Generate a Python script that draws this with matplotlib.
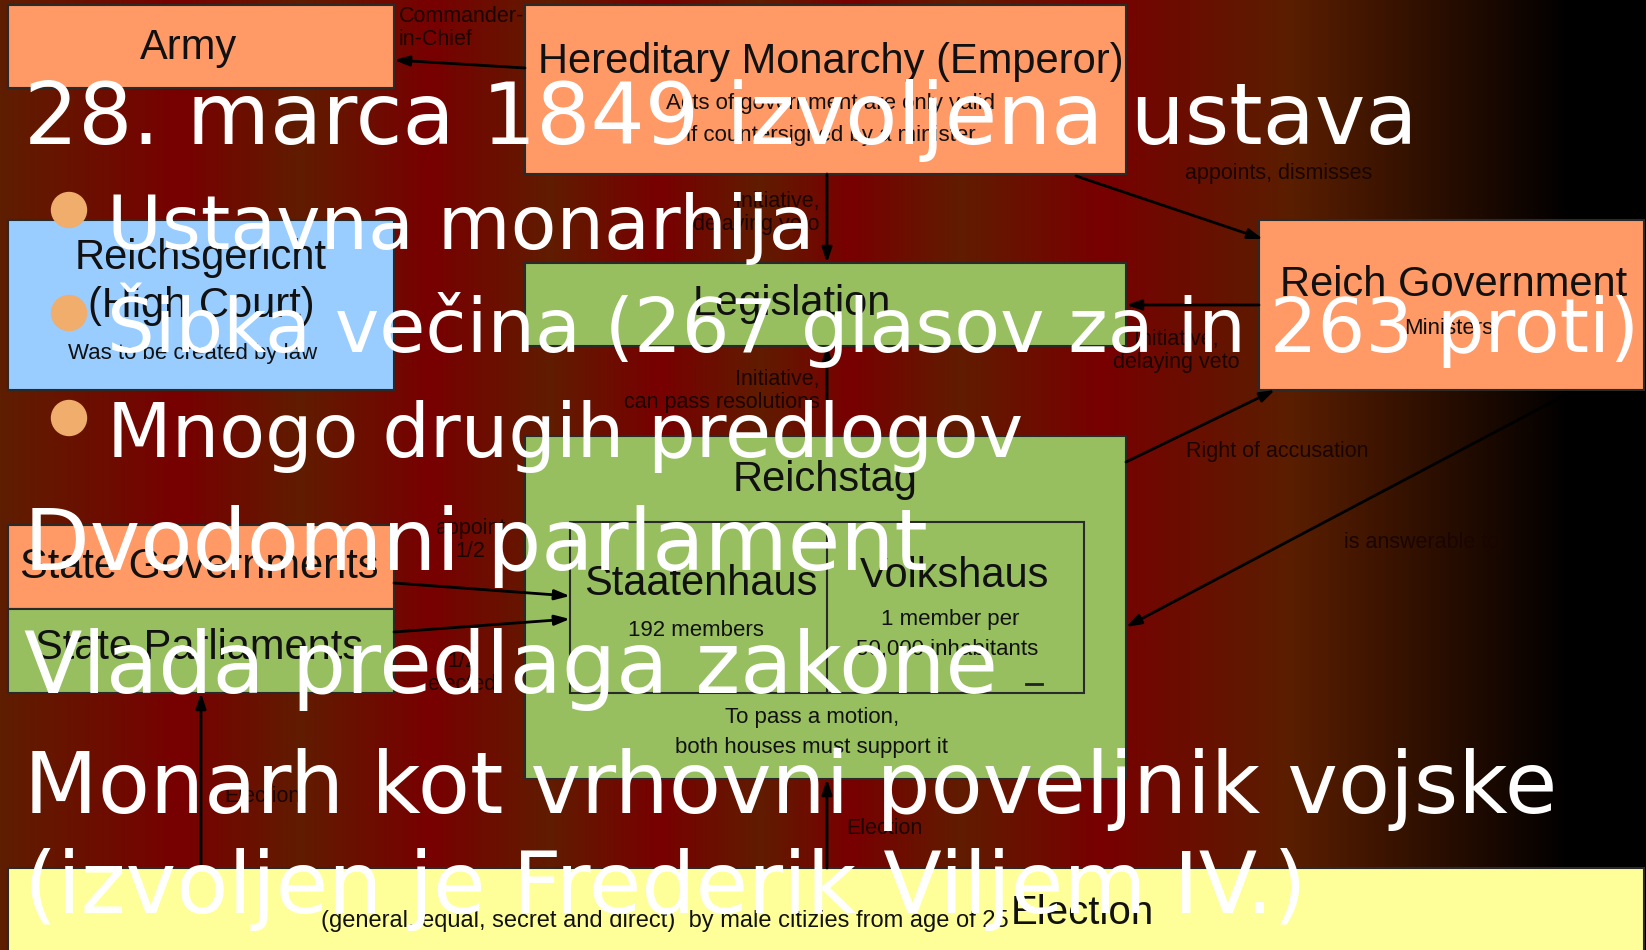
import numpy as np
import matplotlib
matplotlib.use("Agg")
import matplotlib.pyplot as plt
from matplotlib.patches import Rectangle, Circle
from matplotlib.colors import to_rgb

# slide background: horizontal gradient stops (x in px, colour)
bg_stops = [0, 180, 300, 430, 550, 660, 760, 850, 960, 1100, 1290, 1570, 1646]
bg_colors = ['#5e1e00', '#780000', '#601c00', '#780000', '#601c00', '#780000',
             '#601c00', '#780000', '#601c00', '#780000', '#5a1e00', '#000000', '#000000']

# diagram boxes: name, x0, y0, x1, y1, fill
ORANGE, GREEN, BLUE, YELLOW = '#ff9966', '#97bf60', '#99ccff', '#ffff99'
boxes = [
    ('army', 8, 5, 394, 88, ORANGE),
    ('monarchy', 525, 5, 1126, 174, ORANGE),
    ('court', 8, 220, 394, 390, BLUE),
    ('legislation', 525, 263, 1126, 346, GREEN),
    ('reichgov', 1259, 220, 1644, 390, ORANGE),
    ('reichstag', 525, 436, 1126, 779, GREEN),
    ('houses', 570, 522, 1084, 693, GREEN),
    ('stategov', 8, 525, 394, 609, ORANGE),
    ('stateparl', 8, 609, 394, 693, GREEN),
    ('election', 8, 868, 1644, 960, YELLOW),
]

# box texts: text, x, y, size
box_texts = [
    ('Army', 189, 48, 30),
    ('Hereditary Monarchy (Emperor)', 831, 62, 30),
    ('Acts of government are only valid', 831, 104, 16),
    ('if countersigned by a minister', 831, 135, 16),
    ('Reichsgericht', 201, 258, 30),
    ('(High Court)', 201, 306, 30),
    ('Was to be created by law', 193, 354, 16),
    ('Legislation', 792, 304, 30),
    ('Reich Government', 1454, 285, 30),
    ('Ministers', 1449, 329, 16),
    ('Reichstag', 825, 480, 30),
    ('Staatenhaus', 701, 584, 30),
    ('192 members', 696, 630, 16),
    ('Volkshaus', 955, 576, 30),
    ('1 member per', 950, 619, 16),
    ('50,000 inhabitants', 947, 649, 16),
    ('To pass a motion,', 812, 718, 16),
    ('both houses must support it', 812, 748, 16),
    ('State Governments', 199, 567, 30),
    ('State Parliaments', 199, 648, 30),
    ('(general, equal, secret and direct)  by male citizies from age of 25', 665, 921, 17),
    ('Election', 1082, 913, 29),
]

# arrow labels on the background: text, x, y, ha
labels = [
    ('Commander-\nin-Chief', 399, 28, 'left'),
    ('Initiative,\ndelaying veto', 820, 213, 'right'),
    ('Initiative,\ncan pass resolutions', 820, 391, 'right'),
    ('appoints, dismisses', 1279, 173, 'center'),
    ('Initiative,\ndelaying veto', 1176, 351, 'center'),
    ('Right of accusation', 1277, 451, 'center'),
    ('is answerable to', 1422, 543, 'center'),
    ('appoint\n1/2', 470, 540, 'center'),
    ('1/2\nelected', 462, 673, 'center'),
    ('Election', 262, 796, 'center'),
    ('Election', 884, 829, 'center'),
]

# arrows: (x_from, y_from) -> (x_to, y_to)
arrows = [
    ((525, 68), (394, 60)),
    ((827, 174), (827, 263)),
    ((827, 436), (827, 346)),
    ((1076, 176), (1263, 239)),
    ((1259, 305), (1126, 305)),
    ((1126, 462), (1275, 390)),
    ((1569, 393), (1126, 627)),
    ((394, 583), (570, 596)),
    ((394, 632), (570, 619)),
    ((201, 868), (201, 693)),
    ((827, 868), (827, 779)),
]

# slide text
title_lines = ['28. marca 1849 izvoljena ustava']
bullets = ['Ustavna monarhija', 'Šibka večina (267 glasov za in 263 proti)', 'Mnogo drugih predlogov']
lower_lines = ['Dvodomni parlament', 'Vlada predlaga zakone',
               'Monarh kot vrhovni poveljnik vojske', '(izvoljen je Frederik Viljem IV.)']
title_base = [144]
bullet_base = [249, 352, 457]
lower_base = [570, 693, 813, 913]

W, H = 1646, 950
fig = plt.figure(figsize=(W / 100, H / 100), dpi=100)
ax = fig.add_axes([0, 0, 1, 1])
ax.set_xlim(0, W)
ax.set_ylim(H, 0)
ax.axis('off')

# gradient
xs = np.arange(W)
cols = np.array([to_rgb(c) for c in bg_colors])
grad = np.stack([np.interp(xs, bg_stops, cols[:, i]) for i in range(3)], axis=-1)
ax.imshow(grad[np.newaxis, :, :], extent=(0, W, H, 0), aspect='auto', zorder=0)

for name, x0, y0, x1, y1, fc in boxes:
    ax.add_patch(Rectangle((x0, y0), x1 - x0, y1 - y0, facecolor=fc,
                           edgecolor='#2a2a2a', lw=1.5, zorder=1))
ax.plot([827, 827], [522, 693], color='#2a2a2a', lw=1.5, zorder=1)
ax.plot([1026, 1042], [684, 684], color='#222222', lw=2, zorder=2)

for t, x, y, s in box_texts:
    ax.text(x, y, t, fontsize=s, family='Liberation Sans', color='#111111',
            ha='center', va='center', zorder=3)

for t, x, y, ha in labels:
    ax.text(x, y, t, fontsize=15.5, family='Liberation Sans', color='#1a0500',
            ha=ha, va='center', linespacing=1.15, zorder=3, multialignment=ha)

for p0, p1 in arrows:
    ax.annotate('', xy=p1, xytext=p0, zorder=4,
                arrowprops=dict(arrowstyle='-|>,head_length=0.9,head_width=0.3',
                                color='black', lw=2, shrinkA=0, shrinkB=0))

# overlay text
for t, y in zip(title_lines, title_base):
    ax.text(24, y, t, fontsize=61.5, color='white', family='DejaVu Sans', va='baseline', zorder=6)
for t, y in zip(bullets, bullet_base):
    ax.text(107, y, t, fontsize=54, color='white', family='DejaVu Sans', va='baseline', zorder=6)
    ax.add_patch(Circle((69, y - 39), 17.5, color='#f0ad6c', zorder=6))
for t, y in zip(lower_lines, lower_base):
    ax.text(24, y, t, fontsize=61.5, color='white', family='DejaVu Sans', va='baseline', zorder=6)

fig.savefig('out.png', dpi=100)
